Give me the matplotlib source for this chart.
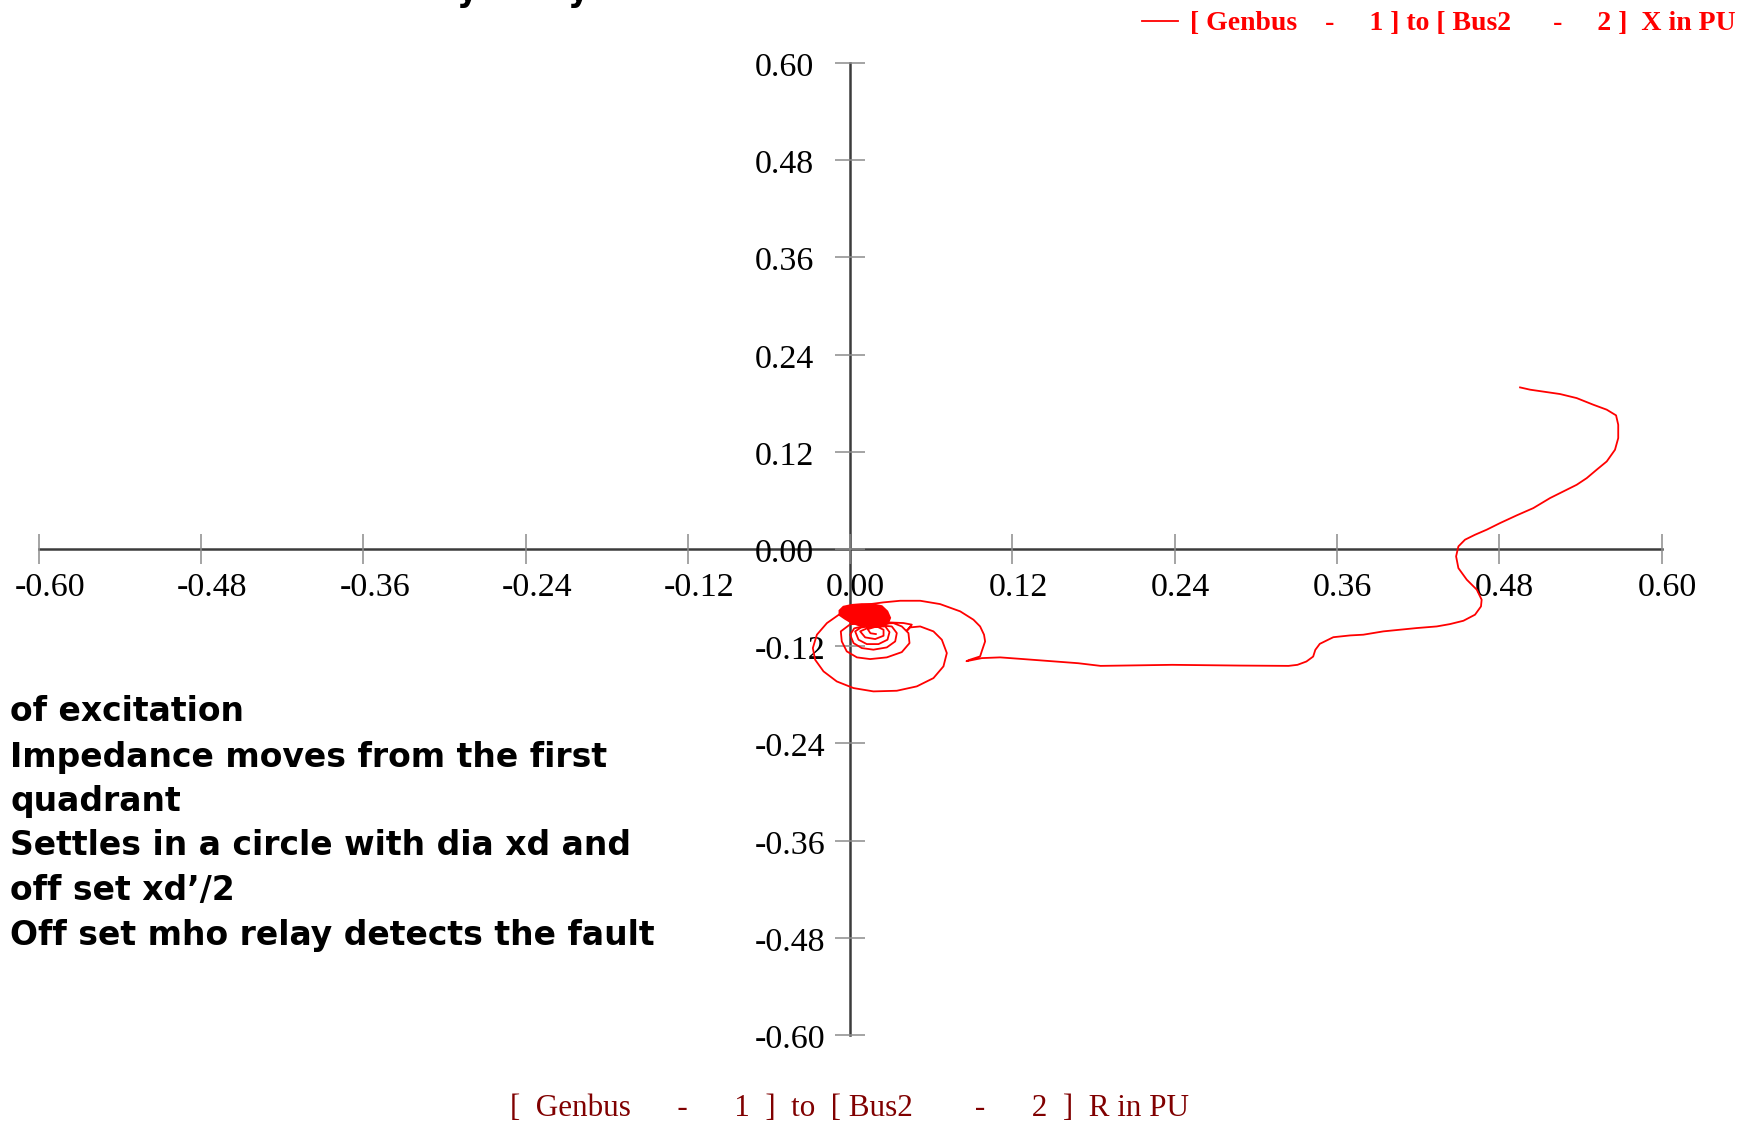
import matplotlib
matplotlib.use("Agg")
import matplotlib.pyplot as plt

W, H, DPI = 1738, 1131, 100

# ---------------- data ----------------
# trajectory of the apparent impedance, R (pu) and X (pu)
r_pu = [0.4954, 0.5028, 0.5151, 0.5250, 0.5373, 0.5496, 0.5595, 0.5664, 0.5680, 0.5680,
        0.5656, 0.5595, 0.5520, 0.5447, 0.5373, 0.5274, 0.5176, 0.5052, 0.4929, 0.4806,
        0.4707, 0.4621, 0.4547, 0.4498, 0.4481, 0.4498, 0.4560, 0.4634, 0.4670, 0.4665,
        0.4621, 0.4535, 0.4436, 0.4338, 0.4190, 0.4067, 0.3943, 0.3795, 0.3697,
        0.3573, 0.3473, 0.3440, 0.3424, 0.3374, 0.3308, 0.3242, 0.2878, 0.2381, 0.1852,
        0.1686, 0.1521, 0.1256, 0.1109,
        0.0974, 0.0860, 0.0880, 0.0961, 0.0973, 0.0998, 0.0990, 0.0961, 0.0912, 0.0814,
        0.0665, 0.0518, 0.0370, 0.0246, 0.0150, 0.0050, -0.0037, -0.0074,
        -0.0172, -0.0246, -0.0276, -0.0259, -0.0197, -0.0099, 0.0025, 0.0172, 0.0345,
        0.0493, 0.0616, 0.0690, 0.0715, 0.0678, 0.0616, 0.0518, 0.0444, 0.0419, 0.0456,
        0.0394,
        0.0200, 0.0000, -0.0069, -0.0062, -0.0025, 0.0050, 0.0148, 0.0271, 0.0382, 0.0439,
        0.0431, 0.0382, 0.0320, 0.0150, 0.0030,
        0.0000, 0.0025, 0.0086, 0.0172, 0.0271, 0.0333, 0.0345, 0.0308, 0.0200, 0.0080,
        0.0037, 0.0062, 0.0123, 0.0210, 0.0276, 0.0291, 0.0260, 0.0150,
        0.0074, 0.0111, 0.0185, 0.0247, 0.0247, 0.0197, 0.0130, 0.0150, 0.0190]
x_pu = [0.1995, 0.1967, 0.1937, 0.1913, 0.1863, 0.1781, 0.1720, 0.1650, 0.1534, 0.1369,
        0.1225, 0.1081, 0.0978, 0.0875, 0.0793, 0.0711, 0.0629, 0.0505, 0.0415, 0.0320,
        0.0238, 0.0176, 0.0115, 0.0032, -0.0091, -0.0236, -0.0379, -0.0502, -0.0626, -0.0709,
        -0.0811, -0.0886, -0.0927, -0.0956, -0.0976, -0.0997, -0.1017, -0.1058, -0.1067,
        -0.1089, -0.1171, -0.1245, -0.1328, -0.1389, -0.1430, -0.1443, -0.1439, -0.1430, -0.1443,
        -0.1410, -0.1389, -0.1356, -0.1338,
        -0.1347, -0.1385, -0.1370, -0.1326, -0.1264, -0.1141, -0.1058, -0.0956, -0.0873, -0.0770,
        -0.0680, -0.0639, -0.0639, -0.0659, -0.0680, -0.0700, -0.0720, -0.0800,
        -0.0915, -0.1058, -0.1223, -0.1367, -0.1511, -0.1635, -0.1717, -0.1758, -0.1750,
        -0.1696, -0.1594, -0.1449, -0.1285, -0.1120, -0.1017, -0.0956, -0.0968, -0.1009, -0.0934,
        -0.0914,
        -0.0900, -0.0930, -0.1017, -0.1141, -0.1264, -0.1338, -0.1359, -0.1338, -0.1273, -0.1162,
        -0.1038, -0.0956, -0.0915, -0.0930, -0.0980,
        -0.1058, -0.1162, -0.1223, -0.1243, -0.1215, -0.1141, -0.1038, -0.0956, -0.0940, -0.0970,
        -0.1017, -0.1120, -0.1174, -0.1174, -0.1120, -0.1026, -0.0956, -0.0960,
        -0.1017, -0.1091, -0.1112, -0.1071, -0.0997, -0.0956, -0.0990, -0.1040, -0.1050]

# outline of the densely over-drawn (solid red) region near the origin
blob_r = [-0.0079, -0.0050, 0.0012, 0.0086, 0.0160, 0.0234, 0.0275, 0.0296, 0.0280, 0.0230,
          0.0150, 0.0060, 0.0010, -0.0040, -0.0079]
blob_x = [-0.0760, -0.0712, -0.0690, -0.0680, -0.0680, -0.0705, -0.0770, -0.0850, -0.0920, -0.0950,
          -0.0950, -0.0940, -0.0910, -0.0860, -0.0815]

tick_values = [-0.60, -0.48, -0.36, -0.24, -0.12, 0.00, 0.12, 0.24, 0.36, 0.48, 0.60]
tick_labels = ["-0.60", "-0.48", "-0.36", "-0.24", "-0.12", "0.00",
               "0.12", "0.24", "0.36", "0.48", "0.60"]

legend_label = "[ Genbus    -     1 ] to [ Bus2      -     2 ]  X in PU"
xlabel_text = "[  Genbus      -      1  ]  to  [ Bus2        -      2  ]  R in PU"
notes = ["of excitation",
         "Impedance moves from the first",
         "quadrant",
         "Settles in a circle with dia xd and",
         "off set xd\u2019/2",
         "Off set mho relay detects the fault"]

# ---------------- figure ----------------
fig = plt.figure(figsize=(W / DPI, H / DPI), dpi=DPI)
fig.patch.set_facecolor("white")

x_left, x_right = 38.8, 1661.5
y_top, y_bot = 63.0, 1035.0
ax = fig.add_axes([x_left / W, 1 - y_bot / H, (x_right - x_left) / W, (y_bot - y_top) / H])
ax.patch.set_visible(False)
ax.set_xlim(-0.6, 0.6)
ax.set_ylim(-0.6, 0.6)

for s in ["top", "right"]:
    ax.spines[s].set_visible(False)
for s in ["left", "bottom"]:
    ax.spines[s].set_position("zero")
    ax.spines[s].set_color("#3c3c3c")
    ax.spines[s].set_linewidth(1.8)
    ax.spines[s].set_zorder(1)

ax.set_xticks(tick_values)
ax.set_yticks(tick_values)
ax.tick_params(direction="inout", length=21.6, width=1.1, color="#8c8c8c",
               labelbottom=False, labelleft=False)
ax.xaxis.set_zorder(2)
ax.yaxis.set_zorder(2)

serif = "Liberation Serif"
for v, lab in zip(tick_values, tick_labels):
    ax.annotate(lab, xy=(v, 0), xytext=(-24, -47), textcoords="offset pixels",
                ha="left", va="baseline", fontsize=24.5, family=serif, color="black",
                zorder=4)
    ax.annotate(lab, xy=(0, v), xytext=(-95, -13), textcoords="offset pixels",
                ha="left", va="baseline", fontsize=24.5, family=serif, color="black",
                zorder=4)

line, = ax.plot(r_pu, x_pu, color="#ff0000", lw=1.3, zorder=5, label=legend_label)
ax.fill(blob_r, blob_x, color="#ff0000", lw=1.3, zorder=5)

ax.legend(handles=[line], loc="upper right", bbox_to_anchor=(1736 / W, 1 - 11 / H),
          bbox_transform=fig.transFigure, frameon=False, borderpad=0, borderaxespad=0,
          handlelength=1.3, handletextpad=0.45,
          prop={"family": serif, "weight": "bold", "size": 20}, labelcolor="#ff0000")

fig.text(850 / W, 1 - 1108 / H, xlabel_text, ha="center", va="center",
         color="#800000", family=serif, fontsize=22.4)

baselines = [721, 767, 811, 855, 900, 945]
for txt, b in zip(notes, baselines):
    fig.text(10 / W, 1 - b / H, txt, ha="left", va="baseline", fontsize=23.8,
             fontweight="bold", family="DejaVu Sans", color="black")

# descenders of a title line that lies above the visible area
for xp in (467, 578):
    fig.text(xp / W, 1 - 1 / H, "y", ha="center", va="baseline", fontsize=23.8,
             fontweight="bold", family="DejaVu Sans", color="black")

fig.savefig("out.png", dpi=DPI, facecolor="white")
